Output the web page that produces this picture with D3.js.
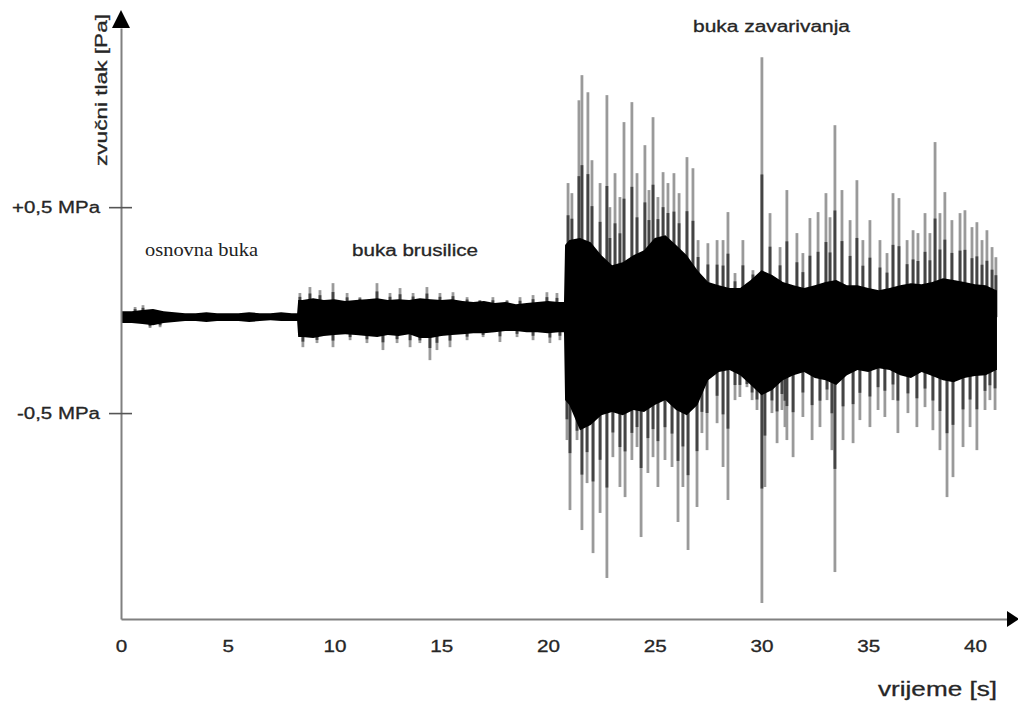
<!DOCTYPE html>
<html><head><meta charset="utf-8">
<script src="https://cdn.jsdelivr.net/npm/d3@7"></script>
<style>body{margin:0;background:#fff}svg{display:block}</style>
</head><body><svg id="c" width="1018" height="705"></svg>
<script>
// ---- data (time in s, pressure in MPa) ----
const xTicks = [0,5,10,15,20,25,30,35,40];
const yTicks = [-0.5, 0.5];
const yTickLabels = ["-0,5 MPa", "+0,5 MPa"];
const segmentLabels = ["osnovna buka", "buka brusilice", "buka zavarivanja"];
const signalCenter = -0.034;

const coreTime = [0,0.5,1,1.5,2,2.5,3,3.5,4,4.5,5,5.5,6,6.5,7,7.5,8,8.25,
  8.3,8.5,9,9.5,10,10.5,11,11.5,12,12.5,13,13.5,14,14.5,15,15.5,16,16.5,17,17.5,18,18.5,19,19.5,20,20.5,20.75,
  20.8,21,21.5,22,22.5,23,23.5,24,24.5,25,25.5,26,26.5,27,27.5,28,28.5,29,29.5,30,30.5,31,31.5,32,32.5,33,33.5,34,34.5,35,35.5,36,36.5,37,37.5,38,38.5,39,39.5,40,40.5,41,41.03];
const coreHigh = [-0.005,-0.005,0,0.005,-0.005,-0.010,-0.015,-0.015,-0.010,-0.015,-0.015,-0.015,-0.010,-0.015,-0.015,-0.010,-0.015,-0.015,
  0.049,0.049,0.058,0.049,0.053,0.044,0.049,0.053,0.058,0.049,0.053,0.049,0.058,0.053,0.049,0.053,0.044,0.039,0.044,0.034,0.039,0.029,0.034,0.039,0.044,0.039,0.039,
  0.316,0.340,0.350,0.330,0.267,0.218,0.233,0.267,0.291,0.350,0.364,0.316,0.267,0.194,0.136,0.121,0.107,0.107,0.146,0.194,0.170,0.136,0.121,0.107,0.121,0.136,0.146,0.121,0.121,0.107,0.097,0.107,0.121,0.131,0.126,0.136,0.155,0.146,0.136,0.126,0.121,0.097,0.097];
const coreLow = [-0.063,-0.063,-0.068,-0.073,-0.063,-0.058,-0.053,-0.053,-0.058,-0.053,-0.053,-0.053,-0.058,-0.053,-0.049,-0.053,-0.053,-0.053,
  -0.131,-0.131,-0.136,-0.126,-0.121,-0.117,-0.121,-0.126,-0.131,-0.121,-0.126,-0.117,-0.136,-0.136,-0.126,-0.121,-0.117,-0.112,-0.112,-0.107,-0.102,-0.102,-0.107,-0.107,-0.112,-0.107,-0.107,
  -0.437,-0.461,-0.583,-0.558,-0.510,-0.495,-0.510,-0.485,-0.495,-0.461,-0.437,-0.485,-0.510,-0.461,-0.340,-0.301,-0.291,-0.316,-0.364,-0.413,-0.388,-0.340,-0.316,-0.301,-0.330,-0.340,-0.364,-0.316,-0.291,-0.301,-0.282,-0.291,-0.316,-0.330,-0.301,-0.320,-0.340,-0.350,-0.330,-0.320,-0.316,-0.291,-0.291];

const upTime = [0.66,1.03,
  8.38,8.85,9.32,9.93,10.59,11.19,11.99,12.60,13.07,13.68,14.33,14.94,15.55,16.21,16.81,17.42,18.08,18.69,19.30,19.95,20.42,
  20.94,21.12,21.45,21.59,21.87,22.06,22.44,22.76,22.90,23.14,23.37,23.56,23.93,24.17,24.54,24.73,24.92,25.15,25.39,25.62,25.90,26.14,26.51,26.79,27.03,27.49,27.92,28.20,28.43,28.76,29.13,29.60,30.02,30.40,30.87,31.19,31.66,31.94,32.27,32.65,33.02,33.21,33.44,33.77,34.15,34.47,34.75,35.08,35.55,35.88,36.16,36.44,36.82,37.10,37.33,37.66,37.89,38.13,38.36,38.59,38.92,39.30,39.53,39.86,40.09,40.33,40.56,40.80,40.98];
const upValue = [0.015,0.024,
  0.083,0.112,0.097,0.131,0.083,0.063,0.131,0.083,0.107,0.083,0.112,0.083,0.087,0.063,0.049,0.063,0.049,0.063,0.073,0.087,0.083,
  0.617,0.568,1.019,1.141,1.058,0.728,0.617,1.044,0.500,0.665,0.549,0.913,1.010,0.665,0.801,0.583,0.937,0.549,0.670,0.617,0.665,0.568,0.743,0.689,0.340,0.325,0.340,0.340,0.476,0.180,0.340,0.194,1.228,0.471,0.306,0.583,0.374,0.277,0.447,0.476,0.568,0.451,0.898,0.583,0.437,0.631,0.340,0.437,0.340,0.277,0.568,0.544,0.340,0.388,0.374,0.471,0.374,0.816,0.471,0.573,0.437,0.471,0.485,0.403,0.427,0.340,0.388,0.306,0.257];
const downTime = [1.36,1.83,
  8.52,9.18,9.93,10.73,11.52,12.27,12.93,13.54,14.00,14.47,14.80,15.41,16.21,16.96,17.75,18.55,19.30,20.09,20.56,
  20.89,21.03,21.36,21.59,21.83,22.11,22.44,22.76,23.04,23.37,23.61,23.93,24.17,24.36,24.68,24.92,25.15,25.48,25.81,26.09,26.32,26.56,26.98,27.21,27.45,27.92,28.20,28.43,28.76,28.99,29.32,29.56,29.79,30.02,30.16,30.49,30.73,30.96,31.10,31.19,31.48,31.94,32.37,32.74,33.07,33.30,33.44,33.82,34.29,34.61,35.08,35.46,35.78,36.16,36.39,36.86,37.28,37.66,38.03,38.36,38.69,38.97,39.44,39.77,40.09,40.47,40.70,40.94];
const downValue = [-0.087,-0.083,
  -0.180,-0.160,-0.180,-0.146,-0.160,-0.194,-0.160,-0.180,-0.160,-0.243,-0.194,-0.180,-0.146,-0.131,-0.155,-0.131,-0.146,-0.160,-0.146,
  -0.631,-0.971,-0.631,-1.068,-0.840,-1.180,-0.985,-1.301,-0.714,-0.859,-0.908,-0.728,-0.665,-1.102,-0.791,-0.714,-0.859,-0.728,-0.762,-1.029,-0.859,-1.165,-0.956,-0.597,-0.680,-0.549,-0.762,-0.922,-0.437,-0.422,-0.374,-0.437,-0.485,-1.422,-0.859,-0.500,-0.646,-0.485,-0.568,-0.631,-0.714,-0.519,-0.631,-0.568,-0.437,-0.680,-1.272,-0.631,-0.646,-0.534,-0.568,-0.485,-0.519,-0.437,-0.597,-0.500,-0.568,-0.471,-0.583,-0.680,-0.908,-0.811,-0.665,-0.568,-0.680,-0.485,-0.437,-0.485];

// ---- chart ----
const svg = d3.select("#c");
const FONT = "'Liberation Sans', Arial, sans-serif";
const TXT = "#262626";
const x = d3.scaleLinear().domain([0, 41.5]).range([121, 1007]);
const y = d3.scaleLinear().domain([-1.5, 1.37]).range([619, 28]);

// core edge value at time t (linear between the read core points)
const coreAt = (arr, t) => {
  const i = Math.max(1, Math.min(coreTime.length - 1, d3.bisectLeft(coreTime, t)));
  const t0 = coreTime[i-1], t1 = coreTime[i];
  const f = t1 === t0 ? 0 : Math.max(0, Math.min(1, (t - t0) / (t1 - t0)));
  return arr[i-1] + f * (arr[i] - arr[i-1]);
};

const sig = svg.append("g");
const ups = d3.zip(upTime, upValue).map(([t, v]) => ({t, v, edge: coreAt(coreHigh, t)}));
const downs = d3.zip(downTime, downValue).map(([t, v]) => ({t, v, edge: coreAt(coreLow, t)}));
const spikes = ups.concat(downs);
// light full spike
sig.selectAll("line.sp").data(spikes).join("line").attr("class","sp")
  .attr("x1", d => x(d.t)).attr("x2", d => x(d.t))
  .attr("y1", y(signalCenter)).attr("y2", d => y(d.v))
  .attr("stroke", "#9a9a9a").attr("stroke-width", 2.8);
// darker lower part of each spike (dense overlap near the core)
sig.selectAll("line.spd").data(spikes).join("line").attr("class","spd")
  .attr("x1", d => x(d.t)).attr("x2", d => x(d.t))
  .attr("y1", y(signalCenter)).attr("y2", d => y(d.edge + 0.45 * (d.v - d.edge)))
  .attr("stroke", "#444").attr("stroke-width", 2.8);
const area = d3.area().x(d => x(d[0])).y0(d => y(d[2])).y1(d => y(d[1]));
sig.append("path").datum(d3.zip(coreTime, coreHigh, coreLow)).attr("d", area).attr("fill", "#000");

// y axis
const yAxis = d3.axisLeft(y).tickValues(yTicks).tickFormat((d, i) => yTickLabels[i])
  .tickSizeInner(12).tickSizeOuter(0).tickPadding(9);
const ya = svg.append("g").attr("transform", `translate(${x(0)},0)`).call(yAxis);
ya.attr("font-family", FONT).attr("font-size", 16);
ya.select(".domain").attr("stroke", "#808080").attr("stroke-width", 2);
ya.selectAll(".tick line").attr("x1", 11).attr("x2", -12).attr("stroke", "#555").attr("stroke-width", 1.6);
ya.selectAll(".tick text").attr("fill", TXT).attr("stroke", TXT).attr("stroke-width", 0.3)
  .attr("textLength", (d, i) => yTickLabels[i].startsWith("+") ? 88 : 83)
  .attr("lengthAdjust", "spacingAndGlyphs");

// x axis
const xAxis = d3.axisBottom(x).tickValues(xTicks).tickSize(0).tickPadding(21).tickFormat(d3.format("d"));
const xa = svg.append("g").attr("transform", `translate(0,${y(-1.5)})`).call(xAxis);
xa.attr("font-family", FONT).attr("font-size", 17);
xa.select(".domain").attr("stroke", "#808080").attr("stroke-width", 2);
xa.selectAll(".tick text").attr("fill", TXT).attr("stroke", TXT).attr("stroke-width", 0.3)
  .attr("textLength", d => String(d).length * 11.5).attr("lengthAdjust", "spacingAndGlyphs");

// arrows
const yTop = y.range()[1], x0 = x(0), xEnd = x.range()[1], yBase = y(-1.5);
svg.append("path").attr("d", `M${x0-9},${yTop}L${x0},${yTop-18}L${x0+9},${yTop}Z`).attr("fill", "#000");
svg.append("path").attr("d", `M${xEnd},${yBase-8}L${xEnd+12},${yBase}L${xEnd},${yBase+8}Z`).attr("fill", "#000");

// titles
svg.append("text").attr("transform", `translate(107,90) rotate(-90)`)
  .attr("text-anchor", "middle").attr("font-family", FONT).attr("font-size", 17).attr("fill", TXT)
  .attr("stroke", TXT).attr("stroke-width", 0.3)
  .attr("textLength", 152).attr("lengthAdjust", "spacingAndGlyphs").text("zvučni tlak [Pa]");
svg.append("text").attr("x", 878).attr("y", 696).attr("font-family", FONT).attr("font-size", 20).attr("fill", TXT)
  .attr("stroke", TXT).attr("stroke-width", 0.3)
  .attr("textLength", 119).attr("lengthAdjust", "spacingAndGlyphs").text("vrijeme [s]");

// segment labels
svg.append("text").attr("x", 145).attr("y", 256).attr("font-family", "'Liberation Serif', 'Times New Roman', serif")
  .attr("font-size", 18).attr("fill", "#222").attr("textLength", 113).attr("lengthAdjust", "spacingAndGlyphs").text(segmentLabels[0]);
svg.append("text").attr("x", 352).attr("y", 256).attr("font-family", FONT)
  .attr("font-size", 16).attr("fill", TXT).attr("stroke", TXT).attr("stroke-width", 0.3)
  .attr("textLength", 126).attr("lengthAdjust", "spacingAndGlyphs").text(segmentLabels[1]);
svg.append("text").attr("x", 693).attr("y", 32).attr("font-family", FONT)
  .attr("font-size", 16).attr("fill", TXT).attr("stroke", TXT).attr("stroke-width", 0.3)
  .attr("textLength", 157).attr("lengthAdjust", "spacingAndGlyphs").text(segmentLabels[2]);
</script></body></html>
